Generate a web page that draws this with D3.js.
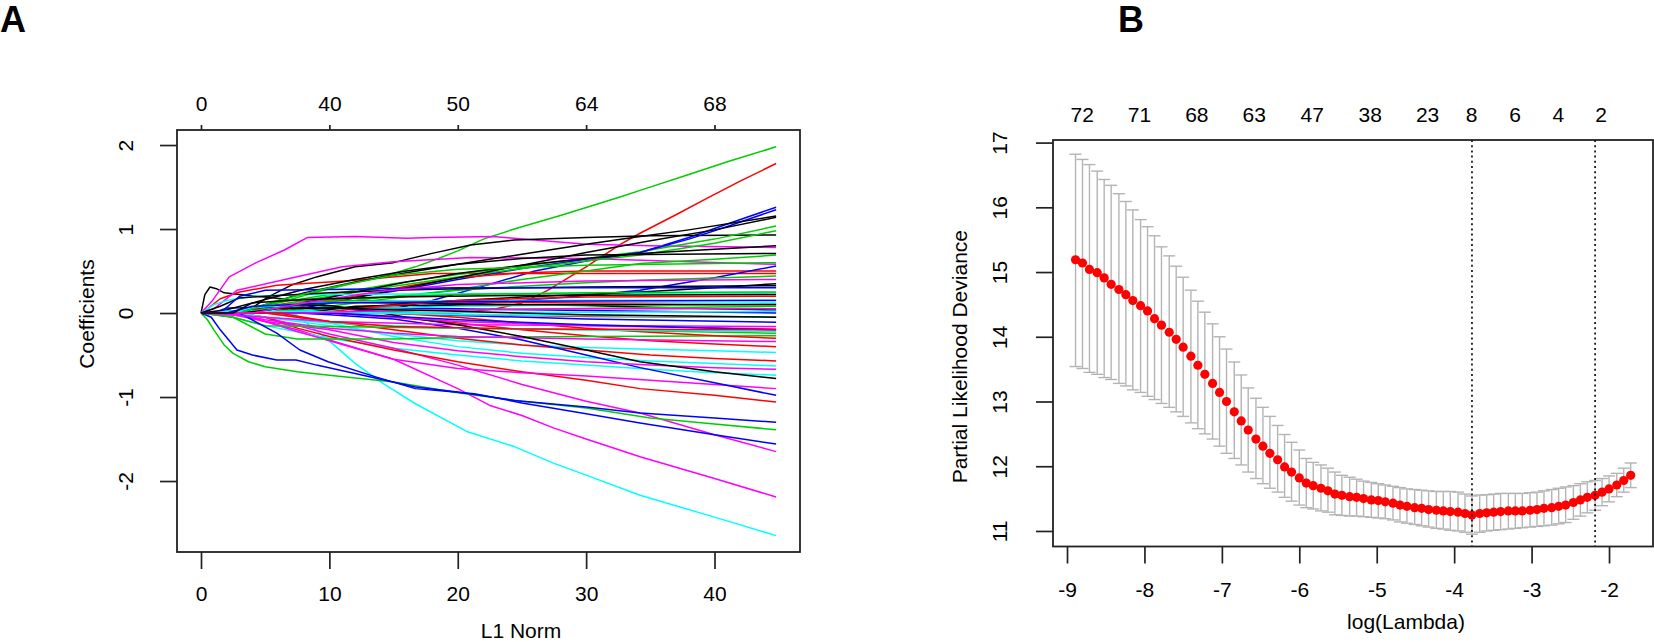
<!DOCTYPE html>
<html>
<head>
<meta charset="utf-8">
<script src="https://cdn.jsdelivr.net/npm/d3@7"></script>
<style>
  body { margin: 0; background: #fff; }
  svg { display: block; }
  text { font-family: "Liberation Sans", Arial, Helvetica, sans-serif; fill: #000; }
</style>
</head>
<body>
<svg id="chart" width="1654" height="642"></svg>
<script>
// ---- panel A: coefficient paths, [L1 norm, coefficient] ----
const blackPaths = [
  [[0,0],[0.3,0.22],[0.7,0.31],[1.2,0.29],[1.8,0.24],[3,0.22],[5,0.19],[7.5,0.15],[10,0.13],[15,0.12],[20,0.11],[25,0.1],[30,0.09],[35,0.07],[40,0.05],[44.8,0.036]],
  [[0,0],[3.4,0],[5.2,0.19],[7,0.33],[9,0.43],[12,0.55],[15,0.6],[18,0.71],[21,0.81],[24.4,0.87],[30,0.9],[35,0.92],[44.8,0.93]],
  [[0,0],[3,0],[5,0.1],[8,0.24],[12,0.37],[16,0.48],[20,0.58],[25,0.7],[30,0.82],[34.2,0.91],[38,0.99],[44.8,1.155]],
  [[0,0],[6,0],[10,0.12],[15,0.27],[20,0.42],[25,0.57],[30,0.72],[35,0.86],[40,0.99],[44.8,1.14]],
  [[0,0],[4,0],[8,0.12],[12,0.25],[16,0.37],[20,0.47],[25,0.57],[30,0.65],[34.2,0.71],[40,0.76],[44.8,0.8]],
  [[0,0],[2,0.04],[5,0.16],[8,0.28],[12,0.4],[16,0.5],[20,0.58],[25,0.65],[30,0.69],[44.8,0.71]],
  [[0,0],[6,0],[10,0.05],[15,0.1],[20,0.15],[25,0.19],[30,0.22],[34.2,0.25],[40,0.3],[44.8,0.35]],
  [[0,0],[1.5,0.08],[3,0.18],[5,0.2],[10,0.24],[15,0.27],[20,0.29],[30,0.31],[44.8,0.325]],
  [[0,0],[4,0],[7.5,0.1],[10,0.09],[13,0.03],[16,-0.05],[20,-0.14],[25,-0.28],[30,-0.44],[34.2,-0.58],[40,-0.7],[44.8,-0.78]],
  [[0,0],[8,0],[12,0.08],[20,0.1],[30,0.1],[44.8,0.1]],
  [[0,0],[3,0],[6,0.05],[10,0.06],[20,0.02],[30,-0.02],[44.8,-0.05]],
  [[0,0],[2.5,0],[4,0.12],[8,0.16],[15,0.19],[25,0.21],[44.8,0.22]]
]
const redPaths = [
  [[0,0],[20,0],[23,0.05],[25,0.12],[27,0.27],[30,0.55],[32.7,0.82],[34.2,0.95],[37,1.17],[39.4,1.365],[42,1.57],[44.8,1.78]],
  [[0,0],[0.5,0.05],[1.5,0.17],[3,0.25],[5.9,0.33],[10,0.37],[12,0.39],[18,0.47],[25,0.47],[44.8,0.47]],
  [[0,0],[5,0],[8,0.08],[12,0.2],[16,0.32],[20,0.42],[25,0.48],[30,0.5],[44.8,0.5]],
  [[0,0],[3,0],[6,0.1],[10,0.15],[15,0.14],[20,0.13],[30,0.12],[44.8,0.11]],
  [[0,0],[3,0],[5,-0.05],[7.5,-0.18],[10,-0.28],[15,-0.44],[20,-0.58],[25,-0.7],[30,-0.8],[34.2,-0.9],[40,-0.98],[44.8,-1.06]],
  [[0,0],[5,0],[7.5,-0.05],[10,-0.1],[15,-0.2],[20,-0.3],[25,-0.38],[30,-0.44],[35,-0.5],[40,-0.54],[44.8,-0.57]],
  [[0,0],[10,0],[15,-0.05],[20,-0.12],[25,-0.2],[30,-0.27],[35,-0.33],[40,-0.37],[44.8,-0.4]],
  [[0,0],[15,0],[20,-0.05],[25,-0.12],[30,-0.18],[35,-0.23],[40,-0.27],[44.8,-0.3]],
  [[0,0],[12,0],[20,-0.02],[30,-0.04],[44.8,-0.05]],
  [[0,0],[9,0],[14,0.08],[20,0.15],[30,0.19],[44.8,0.2]],
  [[0,0],[6,0],[10,-0.1],[15,-0.16],[25,-0.19],[44.8,-0.2]]
]
const greenPaths = [
  [[0,0],[3,0.03],[6,0.12],[9,0.25],[12,0.36],[14.5,0.45],[16.7,0.55],[18.5,0.65],[20,0.74],[22,0.88],[24.4,1.0],[28,1.16],[32.7,1.385],[34.2,1.46],[38,1.65],[41,1.8],[44.8,1.98]],
  [[0,0],[2,0],[5,0.1],[10,0.22],[15,0.35],[20,0.46],[25,0.56],[30,0.65],[34.2,0.73],[40,0.88],[44.8,1.035]],
  [[0,0],[3,0],[6,0.1],[10,0.2],[15,0.32],[20,0.43],[25,0.53],[30,0.62],[34.2,0.69],[40,0.83],[44.8,0.98]],
  [[0,0],[5,0],[10,0.08],[15,0.18],[20,0.28],[25,0.4],[30,0.5],[34.2,0.59],[40,0.64],[44.8,0.69]],
  [[0,0],[3,0],[5,0.05],[10,0.12],[15,0.2],[20,0.27],[25,0.32],[30,0.36],[34.2,0.39],[44.8,0.44]],
  [[0,0],[0.5,-0.08],[1,-0.2],[1.8,-0.38],[2.5,-0.48],[3.7,-0.58],[5,-0.64],[7.5,-0.7],[10,-0.74],[15,-0.82],[20,-0.95],[25,-1.05],[30,-1.13],[35,-1.25],[40,-1.32],[44.8,-1.39]],
  [[0,0],[2.5,-0.05],[5,-0.25],[7.5,-0.31],[15,-0.31],[20,-0.29],[30,-0.28],[44.8,-0.27]],
  [[0,0],[2.5,-0.05],[5,-0.15],[10,-0.16],[20,-0.18],[30,-0.2],[44.8,-0.24]],
  [[0,0],[4,0],[7,0.1],[12,0.18],[20,0.22],[30,0.24],[44.8,0.25]],
  [[0,0],[10,0],[20,0.04],[44.8,0.08]],
  [[0,0],[3,0],[6,0.15],[10,0.3],[15,0.45],[20,0.52],[30,0.57],[44.8,0.6]]
]
const bluePaths = [
  [[0,0],[10,0],[15,0.05],[18,0.15],[22,0.32],[26,0.5],[30,0.62],[34.2,0.72],[38,0.9],[41,1.06],[44.8,1.26]],
  [[0,0],[5,0.04],[10,0.15],[15,0.26],[20,0.4],[25,0.53],[30,0.64],[34.2,0.72],[38,0.88],[41,1.03],[44.8,1.23]],
  [[0,0],[10,0],[15,0.05],[20,0.1],[25,0.15],[30,0.21],[34.2,0.27],[40,0.42],[44.8,0.56]],
  [[0,0],[1,0],[2,0.06],[5,0.065],[10,0.065],[20,0.05],[30,0.03],[44.8,0]],
  [[0,0],[15,0],[20,-0.03],[30,-0.07],[44.8,-0.11]],
  [[0,0],[7.5,0],[10,-0.02],[15,-0.07],[20,-0.18],[25,-0.32],[30,-0.5],[34.2,-0.65],[40,-0.83],[44.8,-0.98]],
  [[0,0],[0.8,-0.05],[1.5,-0.2],[2.8,-0.44],[4,-0.5],[5.9,-0.56],[7.4,-0.56],[9,-0.62],[12,-0.72],[16.7,-0.88],[20,-0.94],[24.4,-1.04],[30,-1.12],[34.2,-1.19],[40,-1.25],[44.8,-1.3]],
  [[0,0],[3,0],[5.9,-0.24],[7.7,-0.44],[9.9,-0.58],[13.6,-0.76],[16.7,-0.9],[21.3,-0.96],[25,-1.07],[30,-1.2],[34.2,-1.31],[40,-1.45],[44.8,-1.56]],
  [[0,0],[1.5,0],[3,0.2],[5,0.27],[10,0.28],[20,0.3],[30,0.3],[44.8,0.3]],
  [[0,0],[10,0],[20,-0.08],[30,-0.14],[44.8,-0.2]],
  [[0,0],[2,0],[4,0.08],[10,0.12],[25,0.14],[44.8,0.15]]
]
const cyanPaths = [
  [[0,0],[6,0],[7.4,-0.02],[8.5,-0.15],[9.9,-0.32],[12,-0.6],[14.2,-0.84],[16.7,-1.08],[20.7,-1.41],[24.4,-1.59],[27.5,-1.79],[30,-1.93],[34.2,-2.17],[40,-2.43],[44.8,-2.65]],
  [[0,0],[2.5,0],[5,-0.05],[10,-0.15],[15,-0.25],[20,-0.33],[25,-0.38],[30,-0.41],[35,-0.43],[40,-0.45],[44.8,-0.47]],
  [[0,0],[5,0],[7.5,-0.05],[10,-0.12],[15,-0.28],[20,-0.4],[25,-0.48],[30,-0.53],[35,-0.57],[40,-0.6],[44.8,-0.63]],
  [[0,0],[2.5,-0.05],[5,-0.15],[10,-0.3],[15,-0.42],[20,-0.5],[25,-0.57],[30,-0.62],[35,-0.67],[40,-0.71],[44.8,-0.74]],
  [[0,0],[1,0.1],[2,0.15],[4,0.2],[8,0.22],[20,0.23],[44.8,0.24]],
  [[0,0],[2,0],[4,0.06],[8,0.12],[15,0.14],[25,0.15],[44.8,0.155]],
  [[0,0],[5,0],[10,0.04],[20,0.08],[30,0.1],[44.8,0.12]],
  [[0,0],[3,0],[5,-0.05],[10,-0.12],[20,-0.18],[30,-0.2],[44.8,-0.22]],
  [[0,0],[15,0],[30,0.01],[44.8,0.02]],
  [[0,0],[1,0],[2,0.02],[8,0.02],[20,-0.02],[44.8,-0.05]]
]
const magentaPaths = [
  [[0,0],[0.9,0.15],[2.2,0.43],[4.3,0.6],[6.5,0.75],[8.3,0.9],[12,0.91],[16,0.89],[18,0.9],[22.8,0.91],[26,0.87],[30,0.82],[35,0.8],[44.8,0.78]],
  [[0,0],[1,0.05],[2.8,0.27],[7.4,0.43],[11,0.55],[15,0.61],[21,0.66],[30,0.65],[38,0.61],[44.8,0.58]],
  [[0,0],[2.5,0],[5,-0.1],[7.5,-0.2],[10,-0.32],[15,-0.55],[20,-0.9],[22.5,-1.1],[25,-1.22],[27.5,-1.37],[30,-1.5],[34.2,-1.71],[40,-1.97],[44.8,-2.19]],
  [[0,0],[2.5,0],[5,-0.05],[7.5,-0.15],[10,-0.25],[15,-0.42],[20,-0.62],[25,-0.85],[30,-1.05],[34.2,-1.19],[40,-1.45],[44.8,-1.65]],
  [[0,0],[2.5,0],[5,-0.1],[7.5,-0.22],[10,-0.33],[15,-0.55],[20,-0.66],[25,-0.71],[30,-0.75],[35,-0.8],[40,-0.85],[44.8,-0.9]],
  [[0,0],[2.5,-0.02],[5,-0.1],[10,-0.2],[15,-0.35],[20,-0.45],[25,-0.52],[30,-0.58],[35,-0.62],[40,-0.65],[44.8,-0.67]],
  [[0,0],[2.5,0],[5,-0.08],[10,-0.18],[15,-0.24],[20,-0.28],[30,-0.31],[44.8,-0.34]],
  [[0,0],[5,-0.05],[10,-0.1],[20,-0.14],[44.8,-0.16]],
  [[0,0],[10,0],[15,-0.05],[20,-0.1],[30,-0.15],[44.8,-0.19]],
  [[0,0],[8,0],[15,0.03],[30,0.05],[44.8,0.05]],
  [[0,0],[4,0],[8,0.12],[14,0.26],[20,0.34],[30,0.38],[44.8,0.4]]
]
const l1Ticks = [0, 10, 20, 30, 40]
const dfLabels = ['0', '40', '50', '64', '68']
const coefTicks = [-2, -1, 0, 1, 2]

// ---- panel B: cross-validated partial likelihood deviance ----
const logLambda = [
  -8.89,-8.80,-8.71,-8.61,-8.52,-8.43,-8.33,-8.24,-8.15,-8.05,
  -7.96,-7.87,-7.78,-7.68,-7.59,-7.50,-7.40,-7.31,-7.22,-7.12,
  -7.03,-6.94,-6.84,-6.75,-6.66,-6.56,-6.47,-6.38,-6.28,-6.19,
  -6.10,-6.00,-5.91,-5.82,-5.72,-5.63,-5.54,-5.45,-5.35,-5.26,
  -5.17,-5.07,-4.98,-4.89,-4.79,-4.70,-4.61,-4.51,-4.42,-4.33,
  -4.23,-4.14,-4.05,-3.95,-3.86,-3.77,-3.67,-3.58,-3.49,-3.40,
  -3.30,-3.21,-3.12,-3.02,-2.93,-2.84,-2.74,-2.65,-2.56,-2.46,
  -2.37,-2.28,-2.18,-2.09,-2.00,-1.90,-1.81,-1.72
]
const cvm = [
  15.19,15.14,15.04,14.99,14.91,14.81,14.73,14.65,14.56,14.48,
  14.40,14.28,14.18,14.07,13.96,13.84,13.70,13.56,13.42,13.28,
  13.14,13.00,12.84,12.70,12.56,12.42,12.31,12.20,12.10,11.99,
  11.91,11.82,11.74,11.70,11.66,11.62,11.57,11.55,11.53,11.52,
  11.50,11.48,11.47,11.45,11.43,11.40,11.38,11.36,11.35,11.33,
  11.32,11.31,11.30,11.29,11.27,11.245,11.27,11.28,11.29,11.30,
  11.31,11.31,11.31,11.32,11.33,11.35,11.36,11.38,11.40,11.44,
  11.48,11.52,11.55,11.60,11.65,11.71,11.78,11.86
]
const cvUp = [
  16.82,16.74,16.66,16.56,16.43,16.34,16.21,16.09,15.96,15.81,
  15.70,15.56,15.39,15.25,15.09,14.92,14.72,14.55,14.38,14.20,
  14.00,13.81,13.61,13.41,13.21,13.05,12.91,12.77,12.63,12.49,
  12.37,12.25,12.12,12.06,12.02,11.97,11.91,11.86,11.83,11.80,
  11.77,11.75,11.73,11.71,11.69,11.67,11.65,11.64,11.63,11.62,
  11.61,11.61,11.61,11.60,11.57,11.54,11.555,11.56,11.57,11.58,
  11.58,11.58,11.58,11.59,11.60,11.62,11.64,11.66,11.68,11.70,
  11.73,11.76,11.78,11.81,11.85,11.89,11.97,12.05
]
const cvLo = [
  13.54,13.51,13.45,13.42,13.37,13.34,13.28,13.24,13.18,13.14,
  13.08,13.03,12.97,12.91,12.84,12.77,12.67,12.58,12.50,12.42,
  12.31,12.20,12.12,12.02,11.91,11.81,11.73,11.66,11.60,11.52,
  11.46,11.40,11.36,11.34,11.31,11.29,11.25,11.24,11.23,11.23,
  11.22,11.21,11.20,11.19,11.17,11.14,11.12,11.10,11.08,11.06,
  11.04,11.03,11.01,11.00,10.98,10.95,10.98,11.00,11.01,11.02,
  11.03,11.04,11.05,11.06,11.07,11.08,11.09,11.11,11.13,11.18,
  11.23,11.28,11.32,11.39,11.45,11.53,11.60,11.67
]
const nzLogLambda = [-8.81, -8.07, -7.33, -6.59, -5.84, -5.09, -4.35, -3.78, -3.22, -2.66, -2.11]
const nzLabels = ['72', '71', '68', '63', '47', '38', '23', '8', '6', '4', '2']
const lambdaTicks = [-9, -8, -7, -6, -5, -4, -3, -2]
const devTicks = [11, 12, 13, 14, 15, 16, 17]
const lambdaMin = -3.77
const lambda1se = -2.18

// ---- drawing ----
const FONT = 21
const INK = '#222'
const svg = d3.select('#chart')
svg.append('rect').attr('width', 1654).attr('height', 642).attr('fill', '#fff')

const boxA = { left: 177, right: 800, top: 130, bottom: 552 }
const boxB = { left: 1053, right: 1653, top: 140, bottom: 546.5 }

const xA = d3.scaleLinear().domain([-1.87, 46.66]).range([boxA.left, boxA.right])
const yA = d3.scaleLinear().domain([-2.845, 2.179]).range([boxA.bottom, boxA.top])
const xB = d3.scaleLinear().domain([-9.181, -1.432]).range([boxB.left, boxB.right])
const yB = d3.scaleLinear().domain([10.76, 17.04]).range([boxB.bottom, boxB.top])

const plain = d => String(d)

function styleAxis(g) {
  g.attr('font-size', FONT).attr('font-family', null)
  g.selectAll('line').attr('stroke', INK).attr('stroke-width', 1.7)
  g.selectAll('path.domain').remove()
  g.selectAll('text').attr('fill', '#000')
}

function rotateLeftLabels(g, offset) {
  g.selectAll('.tick text')
    .attr('x', null).attr('dy', null)
    .attr('text-anchor', 'middle')
    .attr('transform', `translate(${-offset},0) rotate(-90)`)
}

// panel A
const gA = svg.append('g')
const palette = ['#000000', '#FF0000', '#00CD00', '#0000FF', '#00FFFF', '#FF00FF']
const groups = [blackPaths, redPaths, greenPaths, bluePaths, cyanPaths, magentaPaths]
const coefLine = d3.line().x(d => xA(d[0])).y(d => yA(d[1]))
const nMax = d3.max(groups, g => g.length)
for (let j = 0; j < nMax; j++) {
  groups.forEach((grp, c) => {
    if (!grp[j]) return
    gA.append('path')
      .attr('d', coefLine(grp[j]))
      .attr('fill', 'none')
      .attr('stroke', palette[c])
      .attr('stroke-width', 1.5)
      .attr('stroke-linejoin', 'round')
  })
}

gA.append('g')
  .attr('transform', `translate(0,${boxA.bottom})`)
  .call(d3.axisBottom(xA).tickValues(l1Ticks).tickFormat(plain).tickSize(17).tickPadding(16.8))
  .call(styleAxis)

gA.append('g')
  .attr('transform', `translate(0,${boxA.top})`)
  .call(d3.axisTop(xA).tickValues(l1Ticks).tickFormat((d, i) => dfLabels[i]).tickSize(5).tickPadding(14.3))
  .call(styleAxis)

gA.append('g')
  .attr('transform', `translate(${boxA.left},0)`)
  .call(d3.axisLeft(yA).tickValues(coefTicks).tickFormat(plain).tickSize(17))
  .call(styleAxis)
  .call(g => rotateLeftLabels(g, 43.7))

gA.append('rect')
  .attr('x', boxA.left).attr('y', boxA.top)
  .attr('width', boxA.right - boxA.left).attr('height', boxA.bottom - boxA.top)
  .attr('fill', 'none').attr('stroke', INK).attr('stroke-width', 1.8)

gA.append('text')
  .attr('x', 521).attr('y', 638)
  .attr('text-anchor', 'middle').attr('font-size', FONT)
  .text('L1 Norm')

gA.append('text')
  .attr('transform', 'translate(94,314) rotate(-90)')
  .attr('text-anchor', 'middle').attr('font-size', FONT)
  .text('Coefficients')

gA.append('text')
  .attr('x', 0).attr('y', 32)
  .attr('font-size', 36).attr('font-weight', 'bold')
  .text('A')

// panel B
const gB = svg.append('g')
const barW = 6

const bars = gB.append('g').attr('stroke', '#b4b4b4').attr('stroke-width', 1.4)
logLambda.forEach((l, i) => {
  const x = xB(l)
  bars.append('line').attr('x1', x).attr('x2', x).attr('y1', yB(cvUp[i])).attr('y2', yB(cvLo[i]))
  bars.append('line').attr('x1', x - barW).attr('x2', x + barW).attr('y1', yB(cvUp[i])).attr('y2', yB(cvUp[i]))
  bars.append('line').attr('x1', x - barW).attr('x2', x + barW).attr('y1', yB(cvLo[i])).attr('y2', yB(cvLo[i]))
})

gB.append('g')
  .selectAll('circle')
  .data(logLambda)
  .enter()
  .append('circle')
  .attr('cx', d => xB(d))
  .attr('cy', (d, i) => yB(cvm[i]))
  .attr('r', 4.6)
  .attr('fill', '#FF0000')

gB.selectAll('line.vref')
  .data([lambdaMin, lambda1se])
  .enter()
  .append('line')
  .attr('class', 'vref')
  .attr('x1', d => xB(d)).attr('x2', d => xB(d))
  .attr('y1', boxB.top).attr('y2', boxB.bottom)
  .attr('stroke', '#000').attr('stroke-width', 1.6)
  .attr('stroke-dasharray', '2,3.2')

gB.append('g')
  .attr('transform', `translate(0,${boxB.bottom})`)
  .call(d3.axisBottom(xB).tickValues(lambdaTicks).tickFormat(plain).tickSize(17).tickPadding(18.3))
  .call(styleAxis)

gB.append('g')
  .attr('transform', `translate(0,${boxB.top})`)
  .call(d3.axisTop(xB).tickValues(nzLogLambda).tickFormat((d, i) => nzLabels[i]).tickSize(0).tickPadding(18.3))
  .call(styleAxis)

gB.append('g')
  .attr('transform', `translate(${boxB.left},0)`)
  .call(d3.axisLeft(yB).tickValues(devTicks).tickFormat(plain).tickSize(17))
  .call(styleAxis)
  .call(g => rotateLeftLabels(g, 46.3))

gB.append('rect')
  .attr('x', boxB.left).attr('y', boxB.top)
  .attr('width', boxB.right - boxB.left).attr('height', boxB.bottom - boxB.top)
  .attr('fill', 'none').attr('stroke', INK).attr('stroke-width', 1.8)

gB.append('text')
  .attr('x', 1406).attr('y', 629)
  .attr('text-anchor', 'middle').attr('font-size', FONT)
  .text('log(Lambda)')

gB.append('text')
  .attr('transform', 'translate(966.5,230) rotate(-90)')
  .attr('text-anchor', 'end').attr('font-size', FONT)
  .text('Partial Likelihood Deviance')

gB.append('text')
  .attr('x', 1118).attr('y', 32)
  .attr('font-size', 36).attr('font-weight', 'bold')
  .text('B')
</script>
</body>
</html>
